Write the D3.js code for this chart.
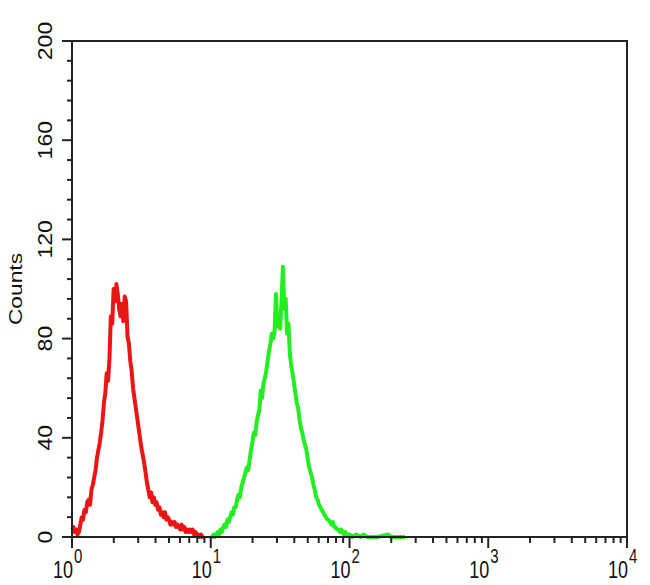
<!DOCTYPE html>
<html>
<head>
<meta charset="utf-8">
<script src="https://cdn.jsdelivr.net/npm/d3@7"></script>
<style>
  html, body { margin: 0; padding: 0; background: #fff; }
  svg { display: block; }
  text { font-family: "Liberation Sans", Arial, sans-serif; fill: #111; }
</style>
</head>
<body>
<svg id="chart" width="650" height="585"></svg>
<script>
// ---- data ----
const yTickValues = [0, 40, 80, 120, 160, 200];
const xDecades = [0, 1, 2, 3, 4];
const yAxisLabel = "Counts";

// red histogram: channel position (decade exponent) and counts
const redLog = [0.00,0.01,0.02,0.03,0.04,0.05,0.06,0.07,0.08,0.09,0.10,0.11,0.12,0.13,0.14,0.15,0.16,0.17,0.18,0.19,
  0.20,0.21,0.22,0.23,0.24,0.25,0.26,0.27,0.28,0.29,0.30,0.31,0.32,0.33,0.34,0.35,0.36,0.37,0.38,0.39,
  0.40,0.41,0.42,0.43,0.44,0.45,0.46,0.47,0.48,0.49,0.50,0.51,0.52,0.53,0.54,0.55,0.56,0.57,0.58,0.59,
  0.60,0.61,0.62,0.63,0.64,0.65,0.66,0.67,0.68,0.69,0.70,0.71,0.72,0.73,0.74,0.75,0.76,0.77,0.78,0.79,
  0.80,0.81,0.82,0.83,0.84,0.85,0.86,0.87,0.88,0.89,0.90,0.91,0.92,0.93,0.94,0.95];
const redCounts = [3,4,2,3,1,2,5,8,7,11,10,14,15,13,19,21,24,27,32,35,
  38,42,47,54,58,66,63,72,89,86,100,95,102,98,92,89,94,87,97,95,
  81,78,71,67,60,56,52,48,44,40,36,33,30,26,22,19,16,18,14,16,
  13,14,11,12,9,10,8,10,7,8,7,5,6,5,6,4,5,4,3,5,
  3,4,2,3,2,3,2,3,1,2,1,1,0,1,0,0];

// green histogram
const greenLog = [1.00,1.01,1.02,1.03,1.04,1.05,1.06,1.07,1.08,1.09,1.10,1.11,1.12,1.13,1.14,1.15,1.16,1.17,1.18,1.19,
  1.20,1.21,1.22,1.23,1.24,1.25,1.26,1.27,1.28,1.29,1.30,1.31,1.32,1.33,1.34,1.35,1.36,1.37,1.38,1.39,
  1.40,1.41,1.42,1.43,1.44,1.45,1.46,1.47,1.48,1.49,1.50,1.51,1.52,1.53,1.54,1.55,1.56,1.57,1.58,1.59,
  1.60,1.61,1.62,1.63,1.64,1.65,1.66,1.67,1.68,1.69,1.70,1.71,1.72,1.73,1.74,1.75,1.76,1.77,1.78,1.79,
  1.80,1.81,1.82,1.83,1.84,1.85,1.86,1.87,1.88,1.89,1.90,1.91,1.92,1.93,1.94,1.95,1.96,1.97,1.98,1.99,
  2.00,2.02,2.05,2.08,2.10,2.13,2.20,2.28,2.30,2.40];
const greenCounts = [0,0,1,0,1,2,1,3,2,4,5,4,7,6,8,10,9,12,12,15,
  17,16,20,22,24,26,28,27,31,35,38,42,41,46,49,51,59,56,62,64,
  67,71,75,78,82,80,83,98,85,89,84,95,109,92,96,82,86,74,69,66,
  62,58,54,52,47,44,42,39,37,35,31,28,26,24,21,19,16,15,13,12,
  11,10,9,8,7,7,6,5,6,4,4,3,3,2,3,2,1,2,1,1,
  1,0,1,0,1,0,0,1,0,0];

const redColor = "#ec1515";
const greenColor = "#22ee22";

// ---- layout ----
const svg = d3.select("#chart");
const mLeft = 72, mRight = 627, mTop = 41, mBottom = 537;

const x = d3.scaleLog().domain([1, 1e4]).range([mLeft, mRight]);
const y = d3.scaleLinear().domain([0, 200]).range([mBottom, mTop]);

// histogram lines
const line = d3.line()
  .x(d => x(Math.pow(10, d[0])))
  .y(d => y(d[1]));

const redData = redLog.map((e, i) => [e, redCounts[i]]);
const greenData = greenLog.map((e, i) => [e, greenCounts[i]]);

svg.append("path").datum(greenData)
  .attr("d", line).attr("fill", "none")
  .attr("stroke", greenColor).attr("stroke-width", 4).attr("stroke-linejoin", "round");
svg.append("path").datum(redData)
  .attr("d", line).attr("fill", "none")
  .attr("stroke", redColor).attr("stroke-width", 4).attr("stroke-linejoin", "round");

// frame
const axisColor = "#222";
svg.append("rect")
  .attr("x", mLeft).attr("y", mTop)
  .attr("width", mRight - mLeft).attr("height", mBottom - mTop)
  .attr("fill", "none").attr("stroke", axisColor).attr("stroke-width", 2);

// y ticks: minor every 8, major every 40
const yMinor = d3.range(0, 201, 8);
svg.append("g").selectAll("line").data(yMinor).join("line")
  .attr("x1", d => yTickValues.includes(d) ? mLeft - 10 : mLeft - 5)
  .attr("x2", mLeft)
  .attr("y1", d => y(d)).attr("y2", d => y(d))
  .attr("stroke", axisColor).attr("stroke-width", 2);

svg.append("g").selectAll("text").data(yTickValues).join("text")
  .attr("transform", d => `translate(52,${y(d)}) scale(1,1.15) rotate(-90)`)
  .attr("text-anchor", "middle")
  .attr("font-size", 20)
  .text(d => d);

// y axis label
svg.append("text")
  .attr("transform", `translate(22,${(mTop + mBottom) / 2}) scale(1,1.2) rotate(-90)`)
  .attr("text-anchor", "middle")
  .attr("font-size", 19)
  .text(yAxisLabel);

// x ticks: major at decades, minor at 2..9
const xMinor = [];
xDecades.slice(0, -1).forEach(dc => {
  for (let m = 2; m <= 9; m++) xMinor.push(m * Math.pow(10, dc));
});
svg.append("g").selectAll("line").data(xMinor).join("line")
  .attr("x1", d => x(d)).attr("x2", d => x(d))
  .attr("y1", mBottom).attr("y2", mBottom + 6)
  .attr("stroke", axisColor).attr("stroke-width", 2);
svg.append("g").selectAll("line").data(xDecades).join("line")
  .attr("x1", d => x(Math.pow(10, d))).attr("x2", d => x(Math.pow(10, d)))
  .attr("y1", mBottom).attr("y2", mBottom + 11)
  .attr("stroke", axisColor).attr("stroke-width", 2);

// x labels "10" with superscript exponent
const xl = svg.append("g");
xl.selectAll("text.base").data(xDecades).join("text")
  .attr("class", "base")
  .attr("transform", d => `translate(${x(Math.pow(10, d)) + 1},578) scale(1,1.3)`)
  .attr("text-anchor", "end")
  .attr("font-size", 18)
  .text("10");
xl.selectAll("text.sup").data(xDecades).join("text")
  .attr("class", "sup")
  .attr("transform", d => `translate(${x(Math.pow(10, d)) + 2},563) scale(1,1.3)`)
  .attr("text-anchor", "start")
  .attr("font-size", 15)
  .text(d => d);
</script>
</body>
</html>
